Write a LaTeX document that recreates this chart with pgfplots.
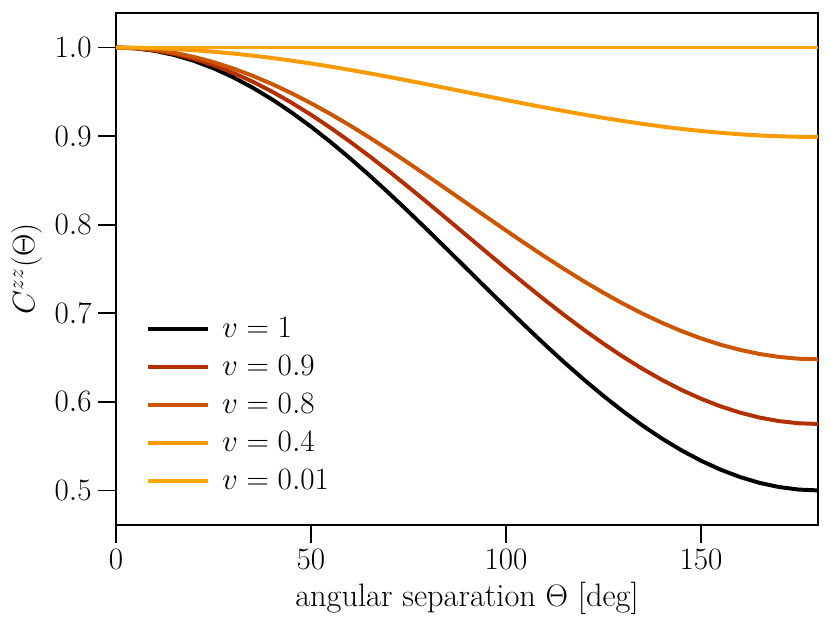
\documentclass[border=0pt]{standalone}
\usepackage{pgfplots}
\pgfplotsset{compat=1.18}
\definecolor{cA}{RGB}{0,0,0}
\definecolor{cB}{RGB}{178,48,0}
\definecolor{cC}{RGB}{204,85,0}
\definecolor{cD}{RGB}{247,155,0}
\definecolor{cE}{RGB}{254,168,0}
\newcommand{\tickf}{\fontsize{16}{19.5}\selectfont}
\newcommand{\labf}{\fontsize{18}{22}\selectfont}
\begin{document}
\begin{tikzpicture}
\begin{axis}[
  scale only axis,
  width=390pt, height=284.4pt,
  xmin=0, xmax=180, ymin=0.461, ymax=1.039,
  xtick={0,50,100,150},
  ytick={0.5,0.6,0.7,0.8,0.9,1.0},
  yticklabel style={/pgf/number format/fixed,/pgf/number format/fixed zerofill,/pgf/number format/precision=1},
  tick align=outside,
  major tick length=10pt,
  tick style={black, line width=1pt},
  axis line style={line width=1pt},
  xtick pos=bottom, ytick pos=left,
  ticklabel style={font=\tickf},
  xlabel style={font=\labf},
  ylabel style={font=\labf},
  xlabel={angular separation $\Theta$ [deg]},
  ylabel={$C^{zz}(\Theta)$},
  legend style={draw=none, fill=none, at={(0.035,0.42)}, anchor=north west, font=\tickf, row sep=4.5pt},
  legend cell align=left,
  legend image code/.code={\draw[#1, line width=2.2pt] (0pt,0pt) -- (33pt,0pt); \path (38pt,0pt);},
  every axis plot/.append style={line width=2.2pt},
]
\addplot[cA] coordinates {
(0,1)(5,0.99905)(10,0.99620)(15,0.99148)(20,0.98492)(25,0.97658)(30,0.96651)(35,0.95479)(40,0.94151)(45,0.92678)(50,0.91070)(55,0.89339)(60,0.875)(65,0.85565)(70,0.83550)(75,0.81470)(80,0.79341)(85,0.77179)(90,0.75)(95,0.72821)(100,0.70659)(105,0.68529)(110,0.66449)(115,0.64434)(120,0.625)(125,0.60660)(130,0.58930)(135,0.57322)(140,0.55849)(145,0.54521)(150,0.53349)(155,0.52342)(160,0.51508)(165,0.50852)(170,0.50380)(175,0.50095)(180,0.5)};
\addlegendentry{$v=1$}
\addplot[cB] coordinates {
(0,1)(5,0.99919)(10,0.99677)(15,0.99276)(20,0.98718)(25,0.98009)(30,0.97153)(35,0.96157)(40,0.95028)(45,0.93776)(50,0.92409)(55,0.90938)(60,0.89375)(65,0.87730)(70,0.86017)(75,0.84249)(80,0.82440)(85,0.80602)(90,0.7875)(95,0.76898)(100,0.75060)(105,0.73250)(110,0.71482)(115,0.69769)(120,0.68125)(125,0.66561)(130,0.65090)(135,0.63724)(140,0.62472)(145,0.61343)(150,0.60347)(155,0.59491)(160,0.58782)(165,0.58224)(170,0.57823)(175,0.57581)(180,0.575)};
\addlegendentry{$v=0.9$}
\addplot[cC] coordinates {
(0,1)(5,0.99933)(10,0.99732)(15,0.99400)(20,0.98938)(25,0.98351)(30,0.97642)(35,0.96817)(40,0.95882)(45,0.94845)(50,0.93713)(55,0.92495)(60,0.912)(65,0.89838)(70,0.88419)(75,0.86955)(80,0.85456)(85,0.83934)(90,0.824)(95,0.80866)(100,0.79344)(105,0.77844)(110,0.76380)(115,0.74962)(120,0.736)(125,0.72305)(130,0.71087)(135,0.69955)(140,0.68918)(145,0.67983)(150,0.67158)(155,0.66449)(160,0.65862)(165,0.65400)(170,0.65068)(175,0.64867)(180,0.648)};
\addlegendentry{$v=0.8$}
\addplot[cD] coordinates {
(0,1)(5,0.99981)(10,0.99923)(15,0.99828)(20,0.99695)(25,0.99527)(30,0.99324)(35,0.99087)(40,0.98819)(45,0.98521)(50,0.98196)(55,0.97846)(60,0.97475)(65,0.97084)(70,0.96677)(75,0.96257)(80,0.95827)(85,0.95390)(90,0.9495)(95,0.94510)(100,0.94073)(105,0.93643)(110,0.93223)(115,0.92816)(120,0.92425)(125,0.92053)(130,0.91704)(135,0.91379)(140,0.91081)(145,0.90813)(150,0.90576)(155,0.90373)(160,0.90205)(165,0.90072)(170,0.89977)(175,0.89919)(180,0.899)};
\addlegendentry{$v=0.4$}
\addplot[cE] coordinates {
(0,1)(30,1)(60,1)(90,1)(120,1)(150,1)(180,1)};
\addlegendentry{$v=0.01$}
\end{axis}
\path (current axis.north east) ++(7.2pt,7.2pt);
\path (current axis.south west) ++(-64.4pt,-63.3pt);
\end{tikzpicture}
\end{document}
